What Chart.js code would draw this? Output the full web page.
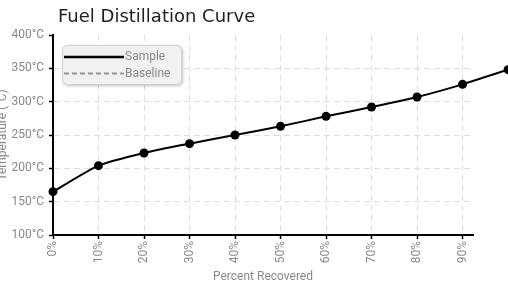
<!DOCTYPE html>
<html><head><meta charset="utf-8">
<script src="https://cdn.jsdelivr.net/npm/chart.js@4/dist/chart.umd.min.js"></script>
<style>html,body{margin:0;padding:0;background:#fff;overflow:hidden}#wrap{position:relative;width:508px;height:290px}</style>
</head><body><div id="wrap"><canvas id="c"></canvas></div>
<script>
const chartTitle = 'Fuel Distillation Curve';
const xAxisTitle = 'Percent Recovered';
const yAxisTitle = 'Temperature (°C)';
const seriesNames = ['Sample', 'Baseline'];
const percentRecovered = [0, 10, 20, 30, 40, 50, 60, 70, 80, 90, 100];
const sampleTemps = [165, 204, 223, 237, 250, 263, 278, 292, 307, 326, 348];
const baselineTemps = [];
const yMin = 100, yMax = 400, yStep = 50;
const xMin = 0, xStep = 10, xAxisEnd = 92.3;

const gridGray = '#dedede';
const textGray = '#888';
const smallFont = {family: 'Roboto', size: 12};

// points lying beyond the drawn axis end are still drawn by the library's point elements
const allPoints = {
  id: 'allPoints',
  afterDatasetsDraw(chart) {
    const ctx = chart.ctx;
    chart.data.datasets.forEach((ds, i) => {
      const meta = chart.getDatasetMeta(i);
      meta.data.forEach(pt => {
        if (pt.x > chart.chartArea.right) pt.draw(ctx);
      });
    });
  }
};

const decor = {
  id: 'decor',
  afterDraw(chart) {
    const ctx = chart.ctx, a = chart.chartArea;
    ctx.save();
    ctx.font = '18px "DejaVu Sans"';
    ctx.fillStyle = '#222';
    ctx.textAlign = 'left';
    ctx.textBaseline = 'alphabetic';
    ctx.fillText(chartTitle, a.left + 5, 22);

    const bx = a.left + 9, by = a.top + 10, bw = 120, bh = 40, r = 5;
    ctx.save();
    ctx.shadowColor = 'rgba(0,0,0,0.25)';
    ctx.shadowBlur = 3; ctx.shadowOffsetX = 1; ctx.shadowOffsetY = 1;
    ctx.beginPath();
    ctx.roundRect(bx, by, bw, bh, r);
    ctx.fillStyle = '#f1f1f1';
    ctx.fill();
    ctx.restore();
    ctx.beginPath();
    ctx.roundRect(bx + 0.5, by + 0.5, bw - 1, bh - 1, r);
    ctx.strokeStyle = '#d0d0d0'; ctx.lineWidth = 1; ctx.stroke();

    chart.data.datasets.forEach((ds, i) => {
      const y = by + 12 + i * 16.5;
      ctx.beginPath();
      ctx.setLineDash(ds.borderDash || []);
      ctx.strokeStyle = ds.borderColor;
      ctx.lineWidth = i === 0 ? 2.5 : 2;
      ctx.moveTo(bx + 2, y); ctx.lineTo(bx + 62, y);
      ctx.stroke();
      ctx.setLineDash([]);
      ctx.font = '12px Roboto';
      ctx.fillStyle = textGray;
      ctx.textBaseline = 'middle';
      ctx.fillText(ds.label, bx + 63, y);
    });
    ctx.restore();
  }
};

new Chart(document.getElementById('c'), {
  type: 'line',
  data: {
    datasets: [
      {
        label: seriesNames[0],
        data: percentRecovered.map((p, i) => ({x: p, y: sampleTemps[i]})),
        borderColor: '#000', backgroundColor: '#000',
        borderWidth: 2, pointRadius: 4.5, pointBorderWidth: 0,
        tension: 0.2, clip: false
      },
      {
        label: seriesNames[1],
        data: baselineTemps.map((t, i) => ({x: percentRecovered[i], y: t})),
        borderColor: '#999', backgroundColor: '#999',
        borderDash: [5, 3], borderWidth: 2, pointRadius: 0, clip: false
      }
    ]
  },
  options: {
    responsive: true, maintainAspectRatio: false, animation: false,
    layout: {padding: {top: 35, right: 35, left: 0, bottom: 0}},
    plugins: {legend: {display: false}, title: {display: false}, tooltip: {enabled: false}},
    scales: {
      x: {
        type: 'linear', min: xMin, max: xAxisEnd,
        ticks: {stepSize: xStep, includeBounds: false, autoSkip: false, minRotation: 90, maxRotation: 90,
                padding: 2, color: textGray, font: smallFont, callback: v => v + '%'},
        grid: {color: c => (c.tick && c.tick.value === 0) ? 'rgba(0,0,0,0)' : gridGray,
               lineWidth: 1, tickLength: 4, tickColor: '#000', tickWidth: 1.5},
        border: {color: '#000', width: 2, dash: [6, 4]},
        title: {display: true, text: xAxisTitle, color: textGray, font: smallFont, padding: {top: 0, bottom: 6}},
        afterFit(s) { s.height = 55; }
      },
      y: {
        min: yMin, max: yMax,
        ticks: {stepSize: yStep, padding: 5, color: textGray, font: smallFont, callback: v => v + '°C'},
        grid: {color: c => (c.tick && (c.tick.value === yMax || c.tick.value === yMin)) ? 'rgba(0,0,0,0)' : gridGray,
               lineWidth: 1, tickLength: 4, tickColor: '#000', tickWidth: 1.5},
        border: {color: '#000', width: 2, dash: [6, 4]},
        title: {display: true, text: yAxisTitle, color: textGray, font: smallFont, padding: {top: -4, bottom: 0}},
        afterFit(s) { s.width = 53; }
      }
    }
  },
  plugins: [allPoints, decor]
});
</script>
</body></html>
